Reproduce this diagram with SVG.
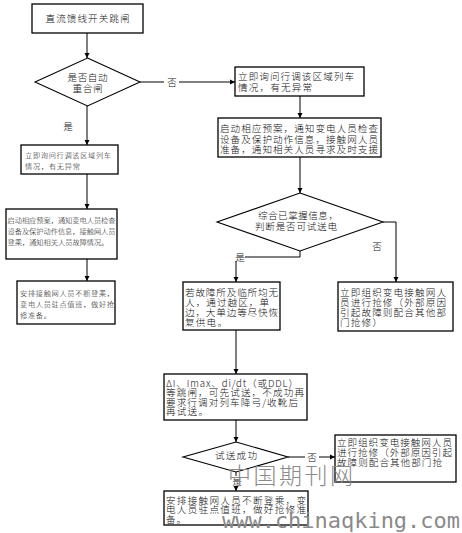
<svg xmlns="http://www.w3.org/2000/svg" width="462" height="533" viewBox="0 0 462 533">
<style>
.box{fill:#fff;stroke:#000;stroke-width:1.3}
.dia{fill:#fff;stroke:#000;stroke-width:1.1}
.ln{fill:none;stroke:#000;stroke-width:1}
.t{font-family:"Noto Sans CJK SC","Noto Sans",sans-serif;fill:#111;font-size:9.6px;font-weight:300}
.s{font-size:7.2px}
.c{text-anchor:middle}
.wm{font-family:"Noto Sans CJK SC",sans-serif;fill:#8a8a8a;font-weight:300}
</style>
<defs>
<marker id="ah" markerWidth="6" markerHeight="6" refX="5" refY="3" orient="auto" markerUnits="userSpaceOnUse">
<path d="M0,0.5 L5,3 L0,5.5 Z" fill="#000"/>
</marker>
</defs>
<rect width="462" height="533" fill="#fff"/>

<g id="connectors">
<path class="ln" d="M87,33 V58" marker-end="url(#ah)"/>
<path class="ln" d="M140,82 H164 M179,82 H235" marker-end="url(#ah)"/>
<path class="ln" d="M87,106 V145" marker-end="url(#ah)"/>
<path class="ln" d="M87,174 V209" marker-end="url(#ah)"/>
<path class="ln" d="M87,259 V281" marker-end="url(#ah)"/>
<path class="ln" d="M300,96 V118" marker-end="url(#ah)"/>
<path class="ln" d="M300,157 V193" marker-end="url(#ah)"/>
<path class="ln" d="M383,222 H396 V282" marker-end="url(#ah)"/>
<path class="ln" d="M300,251 V257 H245 M236,261 V282" marker-end="url(#ah)"/>
<path class="ln" d="M236,330 V374" marker-end="url(#ah)"/>
<path class="ln" d="M236,420 V442" marker-end="url(#ah)"/>
<path class="ln" d="M288,457 H305 M319,457 H335" marker-end="url(#ah)"/>
<path class="ln" d="M236,472 V476 M236,486 V491" marker-end="url(#ah)"/>
<text class="t c" x="172" y="85.5">否</text>
<text class="t c" x="68" y="129.5">是</text>
<text class="t c" x="377" y="249.5">否</text>
<text class="t c" x="240" y="260.5">是</text>
<text class="t c" x="312" y="460.5">否</text>
<text class="t c" x="237" y="484.5">是</text>
</g>

<g id="n1">
<rect class="box" x="32" y="4" width="111" height="29"/>
<text class="t c" x="87.5" y="22" textLength="84">直流馈线开关跳闸</text>
</g>

<g id="d1">
<polygon class="dia" points="87.5,58 140,82 87.5,106 35,82"/>
<text class="t c"><tspan x="87.5" y="81" textLength="40">是否自动</tspan><tspan x="87.5" y="92" textLength="30">重合闸</tspan></text>
</g>

<g id="l1">
<rect class="box" x="21" y="145" width="97" height="29"/>
<text class="t s"><tspan x="25" y="158" textLength="86">立即询问行调该区域列车</tspan><tspan x="25" y="169" textLength="55">情况，有无异常</tspan></text>
</g>

<g id="l2">
<rect class="box" x="6" y="209" width="111" height="50"/>
<text class="t s"><tspan x="7.5" y="223" textLength="108">启动相应预案，通知变电人员检查</tspan><tspan x="7.5" y="234" textLength="108">设备及保护动作信息，接触网人员</tspan><tspan x="7.5" y="245" textLength="101">登乘，通知相关人员故障情况。</tspan></text>
</g>

<g id="l3">
<rect class="box" x="17" y="281" width="98" height="43"/>
<text class="t s"><tspan x="20" y="296" textLength="94">安排接触网人员不断登乘，</tspan><tspan x="20" y="307" textLength="94">变电人员驻点值班，做好抢</tspan><tspan x="20" y="318" textLength="31">修准备。</tspan></text>
</g>

<g id="r1">
<rect class="box" x="235" y="67" width="129" height="29"/>
<text class="t"><tspan x="238" y="80" textLength="116">立即询问行调该区域列车</tspan><tspan x="238" y="91" textLength="74">情况，有无异常</tspan></text>
</g>

<g id="r2">
<rect class="box" x="218" y="118" width="163" height="39"/>
<text class="t"><tspan x="220" y="132" textLength="158">启动相应预案，通知变电人员检查</tspan><tspan x="220" y="142.5" textLength="158">设备及保护动作信息，接触网人员</tspan><tspan x="220" y="153" textLength="158">准备，通知相关人员寻求及时支援</tspan></text>
</g>

<g id="d2">
<polygon class="dia" points="300,193 383,222 300,251 217,222"/>
<text class="t c"><tspan x="298" y="219" textLength="80">综合已掌握信息，</tspan><tspan x="296" y="230" textLength="82">判断是否可试送电</tspan></text>
</g>

<g id="c1">
<rect class="box" x="183" y="282" width="97" height="48"/>
<text class="t"><tspan x="185" y="296" textLength="93">若故障所及临所均无</tspan><tspan x="185" y="306" textLength="84">人，通过越区，单</tspan><tspan x="185" y="316" textLength="93">边，大单边等尽快恢</tspan><tspan x="185" y="326" textLength="42">复供电。</tspan></text>
</g>

<g id="r3">
<rect class="box" x="338" y="282" width="115" height="49"/>
<text class="t"><tspan x="340" y="296" textLength="106">立即组织变电接触网人</tspan><tspan x="340" y="306" textLength="106">员进行抢修（外部原因</tspan><tspan x="340" y="316" textLength="106">引起故障则配合其他部</tspan><tspan x="340" y="326" textLength="42">门抢修）</tspan></text>
</g>

<g id="c2">
<rect class="box" x="164" y="374" width="143" height="46"/>
<text class="t"><tspan x="166" y="386.5" textLength="132">ΔI、Imax、di/dt（或DDL）</tspan><tspan x="166" y="396" textLength="138">等跳闸，可先试送，不成功再</tspan><tspan x="166" y="405.5" textLength="132">要求行调对列车降弓/收靴后</tspan><tspan x="166" y="415" textLength="42">再试送。</tspan></text>
</g>

<g id="d3">
<polygon class="dia" points="236,442 288,457 236,472 183,457"/>
<text class="t c" x="236" y="459" textLength="42">试送成功</text>
</g>

<g id="r4">
<rect class="box" x="335" y="435" width="121" height="47"/>
<text class="t"><tspan x="337" y="445.5" textLength="115">立即组织变电接触网人员</tspan><tspan x="337" y="455.5" textLength="115">进行抢修（外部原因引起</tspan><tspan x="337" y="465.5" textLength="105">故障则配合其他部门抢</tspan></text>
</g>

<g id="c3">
<rect class="box" x="164" y="491" width="144" height="34"/>
<text class="t"><tspan x="166" y="503.5" textLength="140">安排接触网人员不断登乘，变</tspan><tspan x="166" y="513" textLength="140">电人员驻点值班，做好抢修准</tspan><tspan x="166" y="522.5" textLength="20">备。</tspan></text>
</g>

<g id="watermark">
<text class="wm" x="228" y="484" font-size="23" textLength="125">中国期刊网</text>
<text x="222" y="528" font-family="DejaVu Sans Mono,monospace" font-size="22" fill="#8a8a8a" textLength="238">www.chinaqking.com</text>
</g>
</svg>
